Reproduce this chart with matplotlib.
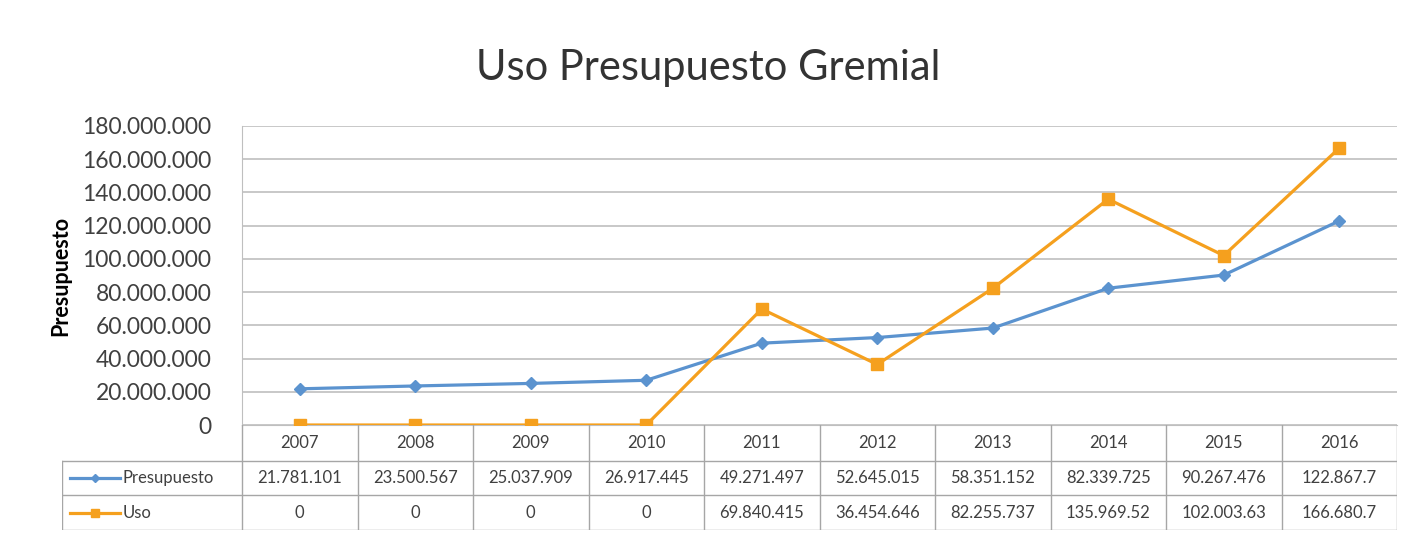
import numpy as np
import matplotlib
matplotlib.use('Agg')
import matplotlib.pyplot as plt
from matplotlib.ticker import FuncFormatter

plt.rcParams['font.family'] = ['Lato', 'DejaVu Sans']

years = ['2007', '2008', '2009', '2010', '2011', '2012', '2013', '2014', '2015', '2016']
presupuesto = [21781101, 23500567, 25037909, 26917445, 49271497, 52645015,
               58351152, 82339725, 90267476, 122867700]
uso = [0, 0, 0, 0, 69840415, 36454646, 82255737, 135969520, 102003630, 166680700]
# labels as printed in the table (last columns are cut off in the source)
presupuesto_txt = ['21.781.101', '23.500.567', '25.037.909', '26.917.445', '49.271.497',
                   '52.645.015', '58.351.152', '82.339.725', '90.267.476', '122.867.7']
uso_txt = ['0', '0', '0', '0', '69.840.415', '36.454.646', '82.255.737',
           '135.969.52', '102.003.63', '166.680.7']

blue = '#5B93CF'
orange = '#F5A01E'
grid = '#BFBFBF'
border = '#A6A6A6'
txt = '#404040'

W, H = 1414, 533
fig = plt.figure(figsize=(W / 100, H / 100), dpi=100)

# pixel layout
pl, pr, pt, pb = 242, 1397, 126, 425
ax = fig.add_axes([pl / W, 1 - pb / H, (pr - pl) / W, (pb - pt) / H])
x = np.arange(len(years))
ax.plot(x, presupuesto, color=blue, lw=2.3, marker='D', ms=6.5, zorder=3)
ax.plot(x, uso, color=orange, lw=2.3, marker='s', ms=8, zorder=3)
ax.set_xlim(-0.5, len(years) - 0.5)
ax.set_ylim(0, 180000000)
ax.set_yticks(np.arange(0, 180000001, 20000000))
ax.yaxis.set_major_formatter(FuncFormatter(lambda v, p: '{:,.0f}'.format(v).replace(',', '.')))
ax.tick_params(axis='y', length=0, labelsize=16.5, labelcolor=txt, pad=22)
ax.set_xticks([])
ax.grid(axis='y', color=grid, lw=1.2)
ax.set_axisbelow(True)
for s in ['top', 'right']:
    ax.spines[s].set_visible(False)
ax.spines['left'].set_color(grid)
ax.spines['bottom'].set_color(grid)
ax.set_ylabel('Presupuesto', fontsize=15.5, fontweight='bold', color='black', labelpad=8)

fig.text(708 / W, 1 - 68 / H, 'Uso Presupuesto Gremial', ha='center', va='center',
         fontsize=30, color='#333333')

# data table under the axis
tl, tb = 62, 530
tax = fig.add_axes([tl / W, 1 - tb / H, (pr - tl) / W, (tb - pb) / H])
upx = len(years) / (pr - pl)
x0 = -0.5 - (pl - tl) * upx
tax.set_xlim(x0, len(years) - 0.5)
row_h = [0, 36, 70, 105]
tax.set_ylim(row_h[-1], 0)
tax.axis('off')

# horizontal lines
for yy in row_h[1:]:
    tax.plot([x0, len(years) - 0.5], [yy, yy], color=border, lw=1)
# vertical lines
for b in np.arange(len(years) + 1) - 0.5:
    tax.plot([b, b], [0, row_h[-1]], color=border, lw=1)
tax.plot([x0, x0], [row_h[1], row_h[-1]], color=border, lw=1)

for i, yr in enumerate(years):
    tax.text(i, (row_h[0] + row_h[1]) / 2, yr, ha='center', va='center', fontsize=12, color=txt)
    tax.text(i, (row_h[1] + row_h[2]) / 2, presupuesto_txt[i], ha='center', va='center',
             fontsize=12, color=txt)
    tax.text(i, (row_h[2] + row_h[3]) / 2, uso_txt[i], ha='center', va='center',
             fontsize=12, color=txt)

# legend keys in the row labels
lx0 = x0 + 8 * upx
lx1 = x0 + 58 * upx
for r, (c, m, ms, name) in enumerate([(blue, 'D', 4.5, 'Presupuesto'), (orange, 's', 6, 'Uso')]):
    yc = (row_h[r + 1] + row_h[r + 2]) / 2
    tax.plot([lx0, lx1], [yc, yc], color=c, lw=2.3)
    tax.plot([(lx0 + lx1) / 2], [yc], color=c, marker=m, ms=ms)
    tax.text(lx1 + 3 * upx, yc, name, ha='left', va='center', fontsize=12, color=txt)

fig.savefig('out.png', dpi=100)
